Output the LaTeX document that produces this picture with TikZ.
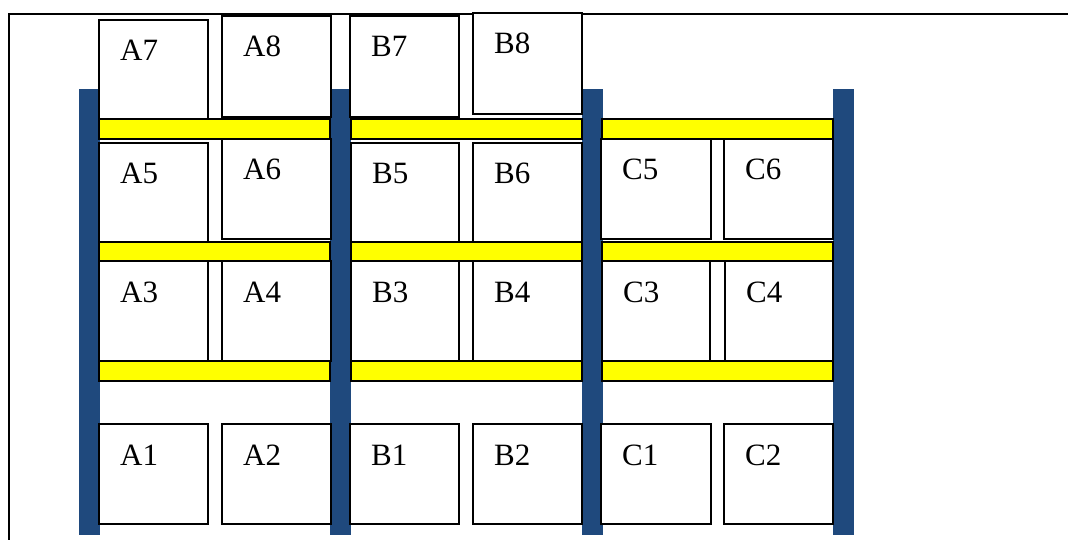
\documentclass[tikz,border=0pt]{standalone}
\usepackage{fontspec}
\setmainfont{Liberation Serif}
\definecolor{postblue}{RGB}{31,73,125}
\definecolor{beamyellow}{RGB}{255,255,0}
\begin{document}
\begin{tikzpicture}[x=1pt,y=-1pt,
  post/.style={fill=postblue,draw=none},
  beam/.style={fill=beamyellow,draw=black,line width=1.6pt},
  box/.style={fill=white,draw=black,line width=2pt},
  lbl/.style={anchor=base west,inner sep=0pt,font=\fontsize{31}{31}\selectfont},
  frame/.style={draw=black,line width=2pt}]
\useasboundingbox (0,0) rectangle (1068,540);

% outer frame (top and left edges)
\draw[frame] (1068,14) -- (8.5,14) -- (8.5,540);

% uprights
\foreach \x in {79,330,582,833}
  \fill[post] (\x,89) rectangle (\x+20.5,535);

% cross beams, one per bay and level
\foreach \ya/\yb in {119/139,242/261,361/381}{
  \draw[beam] (99,\ya) rectangle (330,\yb);
  \draw[beam] (351,\ya) rectangle (582,\yb);
  \draw[beam] (602,\ya) rectangle (833,\yb);
}

% a storage crate: name, x1, y1, x2, y2
\newcommand{\crate}[5]{%
  \draw[box] (#2,#3) rectangle (#4,#5);
  \node[lbl] (#1) at (#2+21,#3+41) {#1};}

% top level
\crate{A7}{99}{20}{208}{119}
\crate{A8}{222}{16}{331}{117}
\crate{B7}{350}{16}{459}{117}
\crate{B8}{473}{13}{582}{114}
% third level
\crate{A5}{99}{143}{208}{242}
\crate{A6}{222}{139}{331}{239}
\crate{B5}{351}{143}{459}{242}
\crate{B6}{473}{143}{582}{242}
\crate{C5}{601}{139}{711}{239}
\crate{C6}{724}{139}{833}{239}
% second level
\crate{A3}{99}{261}{208}{361}
\crate{A4}{222}{261}{331}{361}
\crate{B3}{351}{261}{459}{361}
\crate{B4}{473}{261}{582}{361}
\crate{C3}{602}{261}{710}{361}
\crate{C4}{725}{261}{833}{361}
% floor level
\crate{A1}{99}{424}{208}{524}
\crate{A2}{222}{424}{331}{524}
\crate{B1}{350}{424}{459}{524}
\crate{B2}{473}{424}{582}{524}
\crate{C1}{601}{424}{711}{524}
\crate{C2}{724}{424}{833}{524}
\end{tikzpicture}
\end{document}
